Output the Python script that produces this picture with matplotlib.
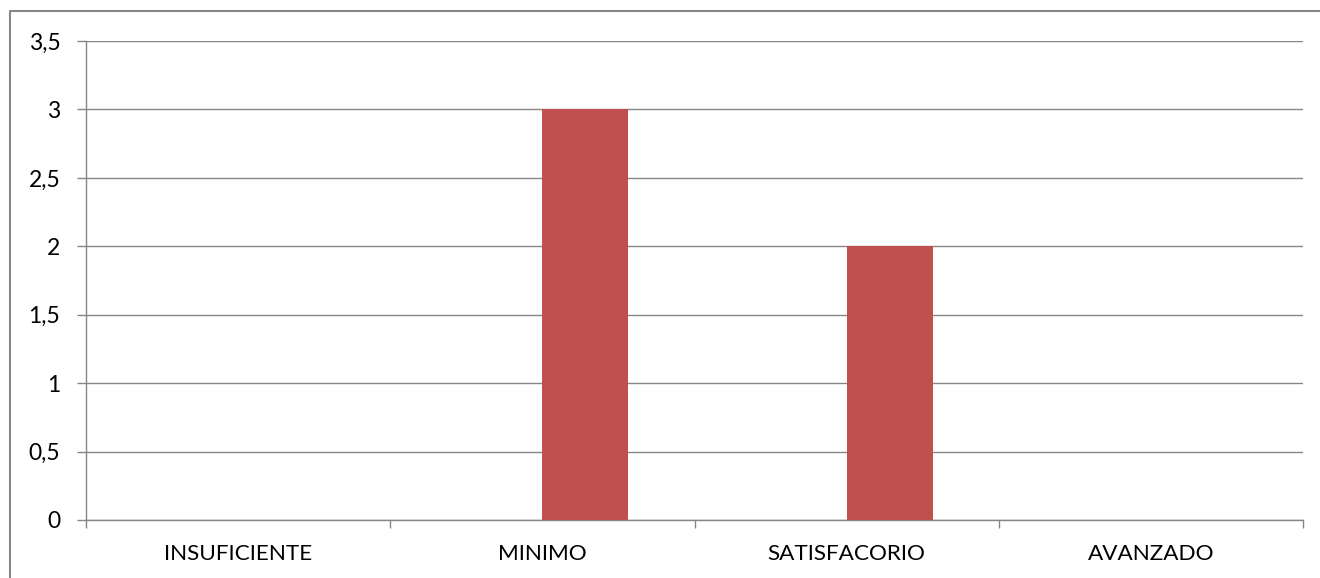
import matplotlib.pyplot as plt
from matplotlib.lines import Line2D
import numpy as np

categories = ['INSUFICIENTE', 'MINIMO', 'SATISFACORIO', 'AVANZADO']
serie1 = [0, 0, 0, 0]
serie2 = [0, 3, 2, 0]
yticks = [0, 0.5, 1, 1.5, 2, 2.5, 3, 3.5]

plt.rcParams['font.family'] = ['Lato', 'DejaVu Sans']

fig = plt.figure(figsize=(13.2, 5.78), dpi=100)
ax = fig.add_axes([86 / 1320, 1 - 520 / 578, (1303 - 86) / 1320, (520 - 41) / 578])

x = np.arange(len(categories))
w = 0.283
ax.bar(x - w / 2, serie1, width=w, color='#4F81BD', zorder=3)
ax.bar(x + w / 2, serie2, width=w, color='#C0504D', zorder=3)

ax.set_xlim(-0.5, len(categories) - 0.5)
ax.set_ylim(0, 3.5)
ax.set_yticks(yticks)
ax.set_yticklabels([f'{v:g}'.replace('.', ',') for v in yticks])
ax.set_xticks(x)
ax.set_xticklabels(categories)
ax.set_xticks(np.arange(len(categories) + 1) - 0.5, minor=True)

gray = '#868686'
ax.grid(axis='y', color=gray, linewidth=1.0, zorder=0)
for s in ['top', 'right']:
    ax.spines[s].set_visible(False)
for s in ['left', 'bottom']:
    ax.spines[s].set_color(gray)
    ax.spines[s].set_linewidth(1.0)

ax.tick_params(axis='y', length=6.5, color=gray, width=1.0, pad=12, labelsize=16.5)
ax.tick_params(axis='x', which='major', length=0, pad=17, labelsize=16.2)
ax.tick_params(axis='x', which='minor', length=6, color=gray, width=1.0)

# outer chart border (only top and left visible)
fig.add_artist(Line2D([10 / 1320, 10 / 1320, 1.0], [0.0, 1 - 11 / 578, 1 - 11 / 578],
                      transform=fig.transFigure, color=gray, linewidth=1.5))

fig.savefig('out.png', dpi=100)
